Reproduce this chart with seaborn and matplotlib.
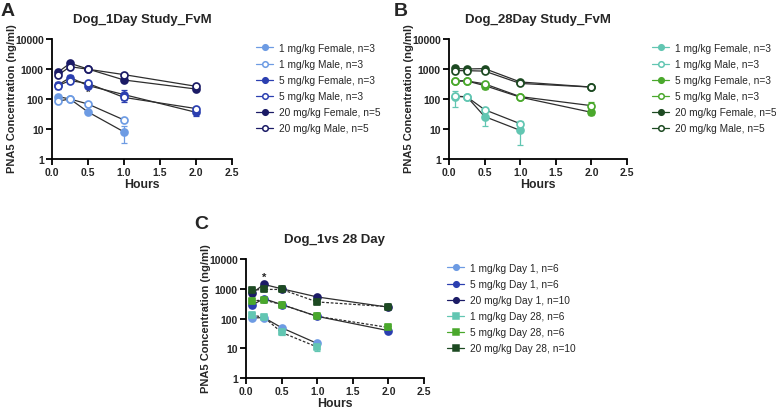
import numpy as np
import pandas as pd
import seaborn as sns
import matplotlib
matplotlib.use("Agg")
import matplotlib.pyplot as plt
from matplotlib.lines import Line2D
from matplotlib.ticker import FixedLocator, NullLocator, FuncFormatter

# ---------------- data ----------------
hours = [0.083, 0.25, 0.5, 1.0, 2.0]
nan = np.nan

# Panel A: Day 1 study, female vs male
A_labels = ["1 mg/kg Female, n=3", "1 mg/kg Male, n=3", "5 mg/kg Female, n=3",
            "5 mg/kg Male, n=3", "20 mg/kg Female, n=5", "20 mg/kg Male, n=5"]
A_1F = [120, 100, 37, 8, nan]
A_1M = [85, 100, 68, 20, nan]
A_5F = [290, 520, 280, 140, 36]
A_5M = [280, 410, 330, 113, 48]
A_20F = [780, 1550, 1000, 430, 215]
A_20M = [620, 1200, 980, 650, 265]
A_1F_sd = [15, 10, 4, 4.5, nan]
A_1M_sd = [8, 10, 6, 2, nan]
A_5F_sd = [80, 110, 30, 60, 9]
A_5M_sd = [40, 80, 30, 20, 6]
A_20F_sd = [100, 200, 80, 50, 20]
A_20M_sd = [80, 150, 80, 60, 25]

# Panel B: Day 28 study, female vs male
B_labels = A_labels
B_1F = [120, 120, 26, 9, nan]
B_1M = [125, 118, 44, 15, nan]
B_5F = [400, 400, 280, 115, 36]
B_5M = [400, 400, 320, 120, 60]
B_20F = [1050, 1000, 1030, 370, 250]
B_20M = [880, 880, 850, 330, 250]
B_1F_sd = [65, 20, 13, 6, nan]
B_1M_sd = [20, 15, 6, 3, nan]
B_5F_sd = [50, 40, 60, 10, 6]
B_5M_sd = [40, 40, 40, 10, 20]
B_20F_sd = [200, 150, 150, 40, 20]
B_20M_sd = [100, 100, 100, 30, 20]

# Panel C: Day 1 vs Day 28
C_labels = ["1 mg/kg Day 1, n=6", "5 mg/kg Day 1, n=6", "20 mg/kg Day 1, n=10",
            "1 mg/kg Day 28, n=6", "5 mg/kg Day 28, n=6", "20 mg/kg Day 28, n=10"]
C_1D1 = [103, 108, 49, 14.5, nan]
C_5D1 = [280, 465, 295, 118, 39]
C_20D1 = [700, 1400, 1000, 530, 240]
C_1D28 = [128, 112, 34, 11, nan]
C_5D28 = [390, 420, 295, 118, 50]
C_20D28 = [900, 950, 950, 360, 250]
C_1D1_sd = [10, 10, 8, 3, nan]
C_5D1_sd = [30, 50, 20, 10, 5]
C_20D1_sd = [80, 150, 60, 50, 20]
C_1D28_sd = [30, 12, 6, 3, nan]
C_5D28_sd = [40, 40, 30, 10, 8]
C_20D28_sd = [100, 80, 80, 40, 20]

x_ticks = [0.0, 0.5, 1.0, 1.5, 2.0, 2.5]
y_ticks = [1, 10, 100, 1000, 10000]

# ---------------- style ----------------
sns.set_theme(style="ticks")
plt.rcParams["font.family"] = ["Liberation Sans", "DejaVu Sans"]

blue1, blue5, blue20 = "#6d9be3", "#2b3fb0", "#1b1b66"
grn1, grn5, grn20 = "#62c6b2", "#4aa82c", "#1d4a22"
LINE = "#2e2e2e"

W, H = 776, 410
fig = plt.figure(figsize=(W / 100, H / 100), dpi=100)


def fx(x):
    return x / W


def fy(y):
    return 1 - y / H


def make_ax(l, t, r, b):
    return fig.add_axes([fx(l), fy(b), fx(r) - fx(l), (b - t) / H])


def draw_series(ax, y, sd, color, filled, marker="o", dashed=False):
    df = pd.DataFrame({"Hours": hours, "conc": y}).dropna()
    sdv = np.array(sd, dtype=float)[~np.isnan(np.array(y, dtype=float))]
    ls = (0, (2.2, 1.4)) if dashed else "-"
    sns.lineplot(data=df, x="Hours", y="conc", ax=ax, color=LINE, lw=0.9,
                 linestyle=ls, legend=False, zorder=2)
    ax.errorbar(df["Hours"], df["conc"], yerr=sdv, fmt="none", ecolor=color,
                elinewidth=0.9, capsize=2.0, capthick=0.9, zorder=3)
    sns.scatterplot(data=df, x="Hours", y="conc", ax=ax, marker=marker,
                    s=25 if marker == "o" else 21,
                    facecolor=color if filled else "white",
                    edgecolor=color, linewidth=1.25, legend=False, zorder=4)


def style_ax(ax):
    ax.set_yscale("log")
    ax.set_xlim(0, 2.5)
    ax.set_ylim(1, 10000)
    ax.xaxis.set_major_locator(FixedLocator(x_ticks))
    ax.yaxis.set_major_locator(FixedLocator(y_ticks))
    ax.yaxis.set_minor_locator(NullLocator())
    ax.xaxis.set_major_formatter(FuncFormatter(lambda v, p: f"{v:.1f}"))
    ax.yaxis.set_major_formatter(FuncFormatter(lambda v, p: f"{int(round(v))}"))
    for s in ["top", "right"]:
        ax.spines[s].set_visible(False)
    for s in ["left", "bottom"]:
        ax.spines[s].set_linewidth(1.3)
        ax.spines[s].set_color("black")
    ax.tick_params(axis="both", length=4, width=1.3, color="black",
                   labelsize=7.5, pad=2)
    for lab in ax.get_xticklabels() + ax.get_yticklabels():
        lab.set_fontweight("bold")
    ax.set_xlabel("")
    ax.set_ylabel("")


def legend(ax, labels, colors, fills, markers, x, y):
    handles = [Line2D([0], [0], color=c, lw=0.9, marker=m, markersize=4.0,
                      markerfacecolor=c if f else "white", markeredgecolor=c,
                      markeredgewidth=1.1)
               for c, f, m in zip(colors, fills, markers)]
    ax.legend(handles, labels, loc="upper left", bbox_to_anchor=(fx(x), fy(y)),
              bbox_transform=fig.transFigure, frameon=False, fontsize=7.3,
              handlelength=1.7, handletextpad=0.6, labelspacing=0.6,
              borderaxespad=0, borderpad=0)


def decorate(l, t, r, b, title, letter, lx, ly):
    cx = (l + r) / 2
    fig.text(fx(cx), fy(t - 20), title, ha="center", va="center",
             fontsize=9.5, fontweight="bold")
    fig.text(fx(l - 40), fy((t + b) / 2 - 1), "PNA5 Concentration (ng/ml)",
             rotation=90, ha="center", va="center", fontsize=8,
             fontweight="bold")
    fig.text(fx(cx), fy(b + 25), "Hours", ha="center", va="center",
             fontsize=8.8, fontweight="bold")
    fig.text(fx(lx), fy(ly), letter, ha="left", va="top", fontsize=14,
             fontweight="bold")


# ---------------- Panel A ----------------
axA = make_ax(52, 40, 232, 160)
A_data = [(A_1F, A_1F_sd, blue1, True), (A_1M, A_1M_sd, blue1, False),
          (A_5F, A_5F_sd, blue5, True), (A_5M, A_5M_sd, blue5, False),
          (A_20F, A_20F_sd, blue20, True), (A_20M, A_20M_sd, blue20, False)]
for y, sd, c, f in A_data:
    draw_series(axA, y, sd, c, f)
style_ax(axA)
axA.text(0.5, 118, "*", ha="center", va="bottom", fontsize=8, fontweight="bold")
legend(axA, A_labels, [d[2] for d in A_data], [d[3] for d in A_data],
       ["o"] * 6, 256, 44)
decorate(52, 40, 232, 160, "Dog_1Day Study_FvM", "A", 1, 3)

# ---------------- Panel B ----------------
axB = make_ax(449, 40, 627, 160)
B_data = [(B_1F, B_1F_sd, grn1, True), (B_1M, B_1M_sd, grn1, False),
          (B_5F, B_5F_sd, grn5, True), (B_5M, B_5M_sd, grn5, False),
          (B_20F, B_20F_sd, grn20, True), (B_20M, B_20M_sd, grn20, False)]
for y, sd, c, f in B_data:
    draw_series(axB, y, sd, c, f)
style_ax(axB)
legend(axB, B_labels, [d[2] for d in B_data], [d[3] for d in B_data],
       ["o"] * 6, 652, 44)
decorate(449, 40, 627, 160, "Dog_28Day Study_FvM", "B", 394, 3)

# ---------------- Panel C ----------------
axC = make_ax(246, 260, 424, 379)
C_data = [(C_1D1, C_1D1_sd, blue1, "o", False), (C_5D1, C_5D1_sd, blue5, "o", False),
          (C_20D1, C_20D1_sd, blue20, "o", False),
          (C_1D28, C_1D28_sd, grn1, "s", True), (C_5D28, C_5D28_sd, grn5, "s", True),
          (C_20D28, C_20D28_sd, grn20, "s", True)]
for y, sd, c, m, d in C_data:
    draw_series(axC, y, sd, c, True, marker=m, dashed=d)
style_ax(axC)
axC.text(0.25, 1650, "*", ha="center", va="bottom", fontsize=8, fontweight="bold")
legend(axC, C_labels, [d[2] for d in C_data], [True] * 6,
       [d[3] for d in C_data], 447, 264)
decorate(246, 260, 424, 379, "Dog_1vs 28 Day", "C", 194, 216)

fig.savefig("out.png", dpi=100)
